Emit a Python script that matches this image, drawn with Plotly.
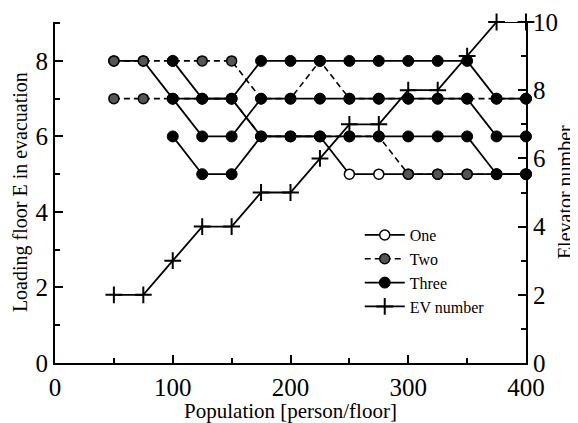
import plotly.graph_objects as go

population = [50, 75, 100, 125, 150, 175, 200, 225, 250, 275, 300, 325, 350, 375, 400]
one = [8, 8, 7, 7, 7, 6, 6, 6, 5, 5, 5, 5, 5, 5, 5]
two_upper = [8, 8, 8, 8, 8, 7, 7, 8, 7, 7, 7, 7, 7, 7, 7]
two_lower = [7, 7, 7, 7, 7, 6, 6, 6, 6, 6, 5, 5, 5, 5, 5]
three_top = [None, None, 8, 7, 7, 8, 8, 8, 8, 8, 8, 8, 8, 7, 7]
three_mid = [None, None, 7, 6, 6, 7, 7, 7, 7, 7, 7, 7, 7, 6, 6]
three_bot = [None, None, 6, 5, 5, 6, 6, 6, 6, 6, 6, 6, 6, 5, 5]
ev_number = [2, 2, 3, 4, 4, 5, 5, 6, 7, 7, 8, 8, 9, 10, 10]

x_ticks = [0, 100, 200, 300, 400]
left_ticks = [0, 2, 4, 6, 8]
right_ticks = [0, 2, 4, 6, 8, 10]

FONT = "Liberation Serif"
fig = go.Figure()

# One
fig.add_trace(go.Scatter(
    x=population, y=one, name="One", mode="lines+markers", legendgroup="one",
    line=dict(color="black", width=1.8),
    marker=dict(symbol="circle", size=10, color="white", line=dict(color="black", width=1.5)),
    cliponaxis=False))

# Two
for i, vals in enumerate([two_upper, two_lower]):
    fig.add_trace(go.Scatter(
        x=population, y=vals, name="Two", mode="lines+markers", legendgroup="two",
        showlegend=(i == 0),
        line=dict(color="black", width=1.6, dash="6px,4px"),
        marker=dict(symbol="circle", size=10, color="#555555", line=dict(color="black", width=1.5)),
        cliponaxis=False))

# Three
for i, vals in enumerate([three_top, three_mid, three_bot]):
    fig.add_trace(go.Scatter(
        x=population, y=vals, name="Three", mode="lines+markers", legendgroup="three",
        showlegend=(i == 0),
        line=dict(color="black", width=1.8),
        marker=dict(symbol="circle", size=11, color="black", line=dict(color="black", width=1)),
        cliponaxis=False))

# EV number (right axis)
fig.add_trace(go.Scatter(
    x=population, y=ev_number, name="EV number", mode="lines+markers", yaxis="y2",
    line=dict(color="black", width=1.8),
    marker=dict(symbol="cross-thin", size=12, color="black", line=dict(color="black", width=2)),
    cliponaxis=False))

axis_common = dict(
    showline=True, linecolor="black", linewidth=2, showgrid=False, zeroline=False,
    ticks="inside", ticklen=8, tickwidth=1.5, tickcolor="black", automargin=False,
    tickfont=dict(family=FONT, size=25, color="black"),
)
minor_common = dict(ticks="inside", ticklen=5, tickwidth=1.5, tickcolor="black")

# page body has an 8px margin, so the figure is sized to fit the 578x423 window
fig.update_layout(
    width=570, height=415,
    margin=dict(l=47, r=52, t=14, b=60),
    paper_bgcolor="white", plot_bgcolor="white",
    font=dict(family=FONT, color="black"),
    xaxis=dict(
        range=[0, 400], tickvals=x_ticks, ticktext=[str(v) for v in x_ticks],
        minor=dict(dtick=50, **minor_common),
        title=dict(text="Population [person/floor]", font=dict(family=FONT, size=21), standoff=2),
        ticklabelstandoff=1,
        **axis_common),
    yaxis=dict(
        range=[0, 9.03], tickvals=left_ticks,
        minor=dict(dtick=1, **minor_common),
        **axis_common),
    yaxis2=dict(
        range=[0, 10], tickvals=right_ticks, overlaying="y", side="right",
        minor=dict(dtick=1, **minor_common),
        **axis_common),
    annotations=[
        dict(text="Loading floor E in evacuation", xref="paper", yref="paper",
             x=-0.073, y=0.5, xanchor="center", yanchor="middle", textangle=-90,
             showarrow=False, font=dict(family=FONT, size=20, color="black")),
        dict(text="Elevator number", xref="paper", yref="paper",
             x=1.082, y=0.5, xanchor="center", yanchor="middle", textangle=-90,
             showarrow=False, font=dict(family=FONT, size=20, color="black")),
    ],
    legend=dict(
        x=0.647, y=0.425, xanchor="left", yanchor="top",
        bgcolor="rgba(0,0,0,0)", font=dict(family=FONT, size=16, color="black"),
        itemwidth=40, tracegroupgap=0),
    showlegend=True,
)

fig.write_html("out.html")
